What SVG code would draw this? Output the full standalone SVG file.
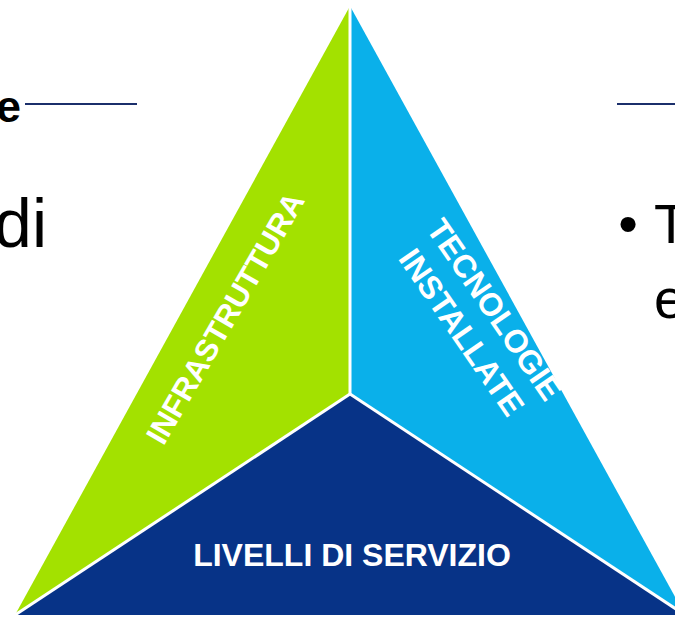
<svg xmlns="http://www.w3.org/2000/svg" width="675" height="617" viewBox="0 0 675 617">
<style>
.lbl{font-family:"Liberation Sans",Arial,sans-serif;font-weight:bold;fill:#ffffff;text-anchor:middle}
.body{font-family:"Liberation Sans",Arial,sans-serif;fill:#000000}
.rule{stroke:#1b2f6b;stroke-width:2;fill:none}
.div{stroke:#ffffff;stroke-width:3;fill:none}
</style>
<rect width="675" height="617" fill="#ffffff"/>
<g id="side-text">
<text class="body" x="21" y="122" font-size="45" font-weight="bold" text-anchor="end">e</text>
<line class="rule" x1="25" y1="104" x2="137" y2="104"/>
<text class="body" x="47" y="247" font-size="68" text-anchor="end">di</text>
<line class="rule" x1="617" y1="104" x2="675" y2="104"/>
<text class="body" x="628" y="243" font-size="56" text-anchor="middle">•</text>
<text class="body" x="654" y="243" font-size="56">T</text>
<text class="body" x="654" y="318" font-size="56">e</text>
</g>
<g id="infrastruttura">
<polygon points="350,6 350,394 15,615" fill="#a3e100"/>
<text class="lbl" font-size="31" transform="translate(225,318) rotate(-60)" x="0" y="11">INFRASTRUTTURA</text>
</g>
<g id="tecnologie">
<polygon points="350,6 350,394 685,615" fill="#0ab0ea"/>
<g transform="translate(478,321) rotate(55.5)">
<text class="lbl" font-size="32" x="0" y="-9">TECNOLOGIE</text>
<text class="lbl" font-size="32" x="0" y="31">INSTALLATE</text>
</g>
</g>
<g id="livelli">
<polygon points="350,394 15,615 685,615" fill="#073387"/>
<text class="lbl" font-size="32" x="352" y="566">LIVELLI DI SERVIZIO</text>
</g>
<g id="connectors">
<line class="div" x1="350" y1="6" x2="350" y2="394"/>
<line class="div" x1="350" y1="394" x2="15" y2="615"/>
<line class="div" x1="350" y1="394" x2="685" y2="615"/>
</g>
</svg>
